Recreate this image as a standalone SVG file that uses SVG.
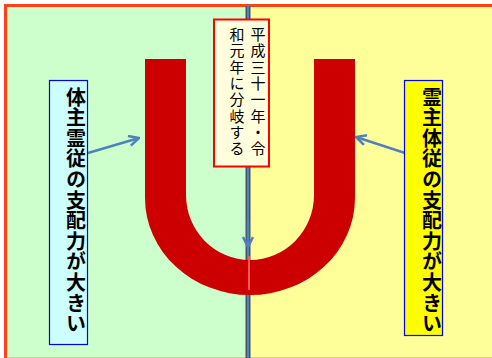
<svg xmlns="http://www.w3.org/2000/svg" width="492" height="358" viewBox="0 0 492 358">
<style>
.vt{writing-mode:vertical-rl;font-family:"Noto Sans CJK JP","Noto Sans CJK SC",sans-serif;fill:#000}
.big{font-size:20px;font-weight:bold;letter-spacing:0.6px}
.small{font-size:15px;letter-spacing:1.3px}
.conn{stroke:#4F81BD;stroke-width:2.5;fill:none}
</style>
<defs>
<marker id="arr" viewBox="0 0 10 10" refX="9" refY="5" markerWidth="5" markerHeight="5" orient="auto" markerUnits="strokeWidth">
<path d="M1,1 L9,5 L1,9" fill="none" stroke="#4F81BD" stroke-width="2"/>
</marker>
</defs>
<g id="background">
<rect x="0" y="0" width="492" height="358" fill="#ffffff"/>
<rect x="7" y="6" width="241" height="352" fill="#CCFFCC"/>
<rect x="248" y="6" width="244" height="352" fill="#FFFF99"/>
<line x1="6" y1="357.5" x2="492" y2="357.5" stroke="#E6C89A" stroke-width="1"/>
<path d="M5.5,358 V5.5 H492" fill="none" stroke="#FF4116" stroke-width="3"/>
</g>
<g id="divider">
<line x1="248" y1="6" x2="248" y2="358" stroke="#44546A" stroke-width="5"/>
<line x1="248" y1="6" x2="248" y2="358" stroke="#4F81BD" stroke-width="2"/>
</g>
<g id="u-shape">
<path d="M145,59 H186 V195 A64,65 0 0 0 314,195 V59 H355 V198 A105,97 0 0 1 145,198 Z" fill="#CC0000"/>
<line x1="249" y1="256" x2="249" y2="290" stroke="#FF5555" stroke-width="2"/>
</g>
<g id="connectors">
<line class="conn" x1="88" y1="153" x2="139" y2="138" marker-end="url(#arr)"/>
<line class="conn" x1="405" y1="153" x2="356" y2="137" marker-end="url(#arr)"/>
<line class="conn" x1="248" y1="220" x2="248" y2="247" marker-end="url(#arr)"/>
</g>
<g id="node-center">
<rect x="214" y="19.5" width="55" height="147" fill="#FFFFDD" stroke="#FF0000" stroke-width="2"/>
<text class="vt small" x="258" y="27">平成三十一年・令</text>
<text class="vt small" x="237" y="27">和元年に分岐する</text>
</g>
<g id="node-left">
<rect x="49.5" y="80.5" width="38" height="264" fill="#CCFFFF" stroke="#0000FF" stroke-width="1.2"/>
<text class="vt big" x="76" y="87">体主霊従の支配力が大きい</text>
</g>
<g id="node-right">
<rect x="404.5" y="80.5" width="38" height="255" fill="#FFFF00" stroke="#0000FF" stroke-width="1.2"/>
<text class="vt big" x="432" y="87">霊主体従の支配力が大きい</text>
</g>
</svg>
